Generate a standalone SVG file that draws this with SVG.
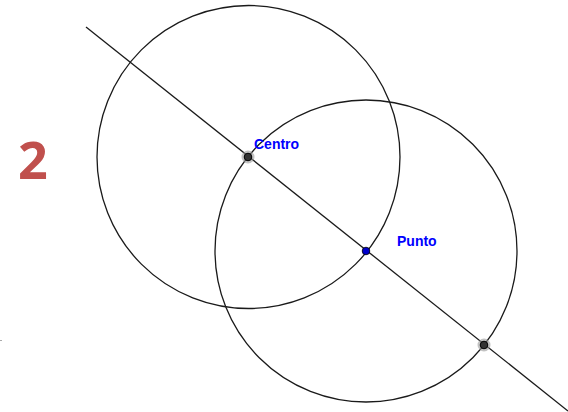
<svg xmlns="http://www.w3.org/2000/svg" width="568" height="412" viewBox="0 0 568 412">
<style>
.c{fill:none;stroke:#1a1a1a;stroke-width:1.3}
.l{stroke:#1a1a1a;stroke-width:1.3}
.halo{fill:#999;opacity:0.6}
.pt{fill:#333;stroke:#000;stroke-width:1}
.lbl{font-family:"Liberation Sans",Arial,sans-serif;font-size:14px;font-weight:bold;fill:#0000ff}
</style>
<rect width="568" height="412" fill="#fff"/>
<text x="18" y="179" font-family="'Open Sans','Liberation Sans',sans-serif" font-weight="bold" font-size="52" fill="#c0504d">2</text>
<rect x="0" y="340" width="2" height="1" fill="#aaa"/>
<g id="connectors">
<line class="l" x1="86" y1="27" x2="568" y2="411"/>
</g>
<g id="circle1"><circle class="c" cx="248.5" cy="157" r="151.5"/></g>
<g id="circle2"><circle class="c" cx="366" cy="251" r="151"/></g>
<g id="centro">
<circle class="halo" cx="248" cy="157" r="6.5"/>
<circle class="pt" cx="248" cy="157" r="3.8"/>
<text class="lbl" x="254" y="149">Centro</text>
</g>
<g id="punto">
<circle cx="366" cy="251" r="3.8" fill="#0000cc" stroke="#000" stroke-width="0.8"/>
<text class="lbl" x="397" y="246">Punto</text>
</g>
<g id="p3">
<circle class="halo" cx="484" cy="345" r="6.5"/>
<circle class="pt" cx="484" cy="345" r="3.8"/>
</g>
</svg>
